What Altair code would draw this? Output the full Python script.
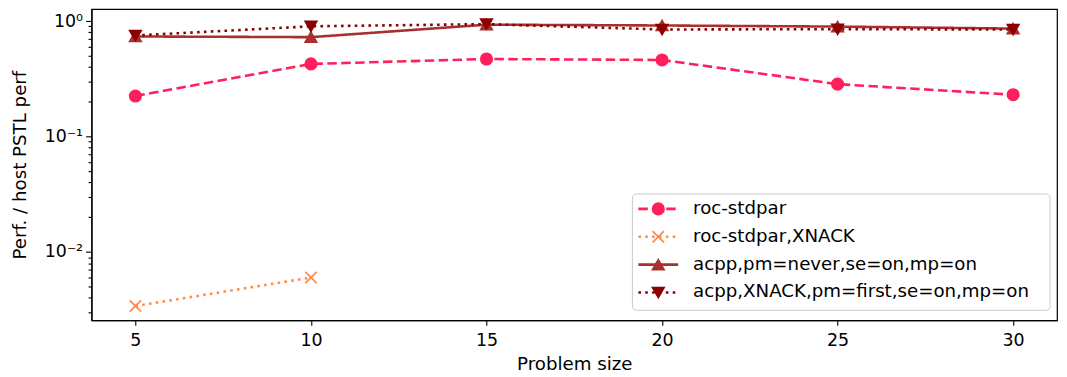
import altair as alt
import pandas as pd

# ---------------- data ----------------
series_names = [
    "roc-stdpar",
    "roc-stdpar,XNACK",
    "acpp,pm=never,se=on,mp=on",
    "acpp,XNACK,pm=first,se=on,mp=on",
]
sizes = [5, 10, 15, 20, 25, 30]
roc_stdpar = [0.224, 0.425, 0.469, 0.460, 0.284, 0.230]
xnack_sizes = [5, 10]
roc_stdpar_xnack = [0.0034, 0.0060]
acpp_never = [0.735, 0.725, 0.930, 0.915, 0.895, 0.860]
acpp_xnack_first = [0.750, 0.900, 0.940, 0.845, 0.850, 0.845]

colors = ["#FF1F5B", "#FF8C4A", "#A93030", "#8B0000"]
dashes = [[9.5, 4.5], [2.6, 4.3], [1, 0], [2.6, 4.3]]
shapes = ["circle", "M-1,-1L1,1M-1,1L1,-1", "triangle-up", "triangle-down"]

major_ticks = [0.01, 0.1, 1]
minor_ticks = [m * d for d in [0.001, 0.01, 0.1] for m in range(2, 10)]
x_ticks = [5, 10, 15, 20, 25, 30]

rows = []
for xs, ys, name in [
    (sizes, roc_stdpar, series_names[0]),
    (xnack_sizes, roc_stdpar_xnack, series_names[1]),
    (sizes, acpp_never, series_names[2]),
    (sizes, acpp_xnack_first, series_names[3]),
]:
    for x, y in zip(xs, ys):
        rows.append({"series": name, "size": x, "value": y, "order": series_names.index(name)})
df = pd.DataFrame(rows)
legend_df = pd.DataFrame({"series": series_names, "idx": list(range(len(series_names)))})

FONT = "DejaVu Sans"
MSIZE = 130
LW = 2.6
TICKFS = 17.5
TEXTFS = 18.3

color_enc = alt.Color("series:N", scale=alt.Scale(domain=series_names, range=colors), legend=None)
stroke_enc = alt.Stroke("series:N", scale=alt.Scale(domain=series_names, range=colors), legend=None)
dash_enc = alt.StrokeDash("series:N", scale=alt.Scale(domain=series_names, range=dashes), legend=None)
shape_enc = alt.Shape("series:N", scale=alt.Scale(domain=series_names, range=shapes), legend=None)

x_scale = alt.Scale(domain=[3.75, 31.25], nice=False, zero=False)
y_scale = alt.Scale(type="log", domain=[0.00256, 1.27], nice=False)

x_enc = alt.X(
    "size:Q",
    scale=x_scale,
    axis=alt.Axis(
        values=x_ticks,
        title="Problem size",
        grid=False,
        tickSize=5,
        labelPadding=6,
        titlePadding=7,
    ),
)

is_major = "abs(log(datum.value)/LN10 - round(log(datum.value)/LN10)) < 0.001"
y_enc = alt.Y(
    "value:Q",
    scale=y_scale,
    axis=alt.Axis(
        values=major_ticks + minor_ticks,
        labelExpr=(
            "abs(datum.value - 1) < 0.001 ? '10⁰' : "
            "(abs(datum.value - 0.1) < 0.0001 ? '10⁻¹' : "
            "(abs(datum.value - 0.01) < 0.00001 ? '10⁻²' : ''))"
        ),
        title="Perf. / host PSTL perf",
        grid=False,
        tickSize={"condition": {"test": is_major, "value": 6}, "value": 3.5},
        labelPadding=3,
        titlePadding=15,
    ),
)

base = alt.Chart(df)

lines = base.mark_line(strokeWidth=LW, strokeCap="butt").encode(
    x=x_enc, y=y_enc, color=color_enc, strokeDash=dash_enc, detail="series:N", order="size:Q"
)

points = base.mark_point(filled=True, size=MSIZE, strokeWidth=1.8, opacity=1).encode(
    x=alt.X("size:Q", scale=x_scale),
    y=alt.Y("value:Q", scale=y_scale),
    color=color_enc,
    stroke=stroke_enc,
    shape=shape_enc,
    order="order:Q",
)

# ---------------- legend (drawn manually, matplotlib style) ----------------
leg_box = alt.Chart(pd.DataFrame({"a": [0]})).mark_rect(
    fill="white", fillOpacity=0.85, stroke="#cccccc", strokeWidth=1, cornerRadius=4
).encode(x=alt.value(544), x2=alt.value(964), y=alt.value(186), y2=alt.value(303))

leg = alt.Chart(legend_df).transform_calculate(ly="201 + 28 * datum.idx")

leg_lines = leg.mark_rule(strokeWidth=LW, strokeCap="butt").encode(
    x=alt.value(550), x2=alt.value(590), y=alt.Y("ly:Q", scale=None), color=color_enc, strokeDash=dash_enc
)
leg_points = leg.mark_point(filled=True, size=MSIZE, strokeWidth=1.8, opacity=1).encode(
    x=alt.value(570), y=alt.Y("ly:Q", scale=None), color=color_enc, stroke=stroke_enc, shape=shape_enc
)
leg_text = leg.mark_text(align="left", baseline="middle", font=FONT, fontSize=TEXTFS, color="black").encode(
    x=alt.value(605), y=alt.Y("ly:Q", scale=None), text="series:N"
)

chart = (
    alt.layer(lines, points, leg_box, leg_lines, leg_points, leg_text)
    .properties(
        width=971,
        height=313,
        background="white",
        autosize=alt.AutoSizeParams(type="none"),
        padding={"left": 84, "top": 0, "right": 2, "bottom": 56},
    )
    .configure_view(stroke="black", strokeWidth=1.2)
    .configure_axis(
        domainColor="black",
        domainWidth=1.2,
        tickColor="black",
        tickWidth=1.1,
        labelFont=FONT,
        labelFontSize=TICKFS,
        labelColor="black",
        titleFont=FONT,
        titleFontSize=TEXTFS,
        titleFontWeight="normal",
        titleColor="black",
    )
)

chart.save("out.html", embed_options={"renderer": "svg", "actions": False})
